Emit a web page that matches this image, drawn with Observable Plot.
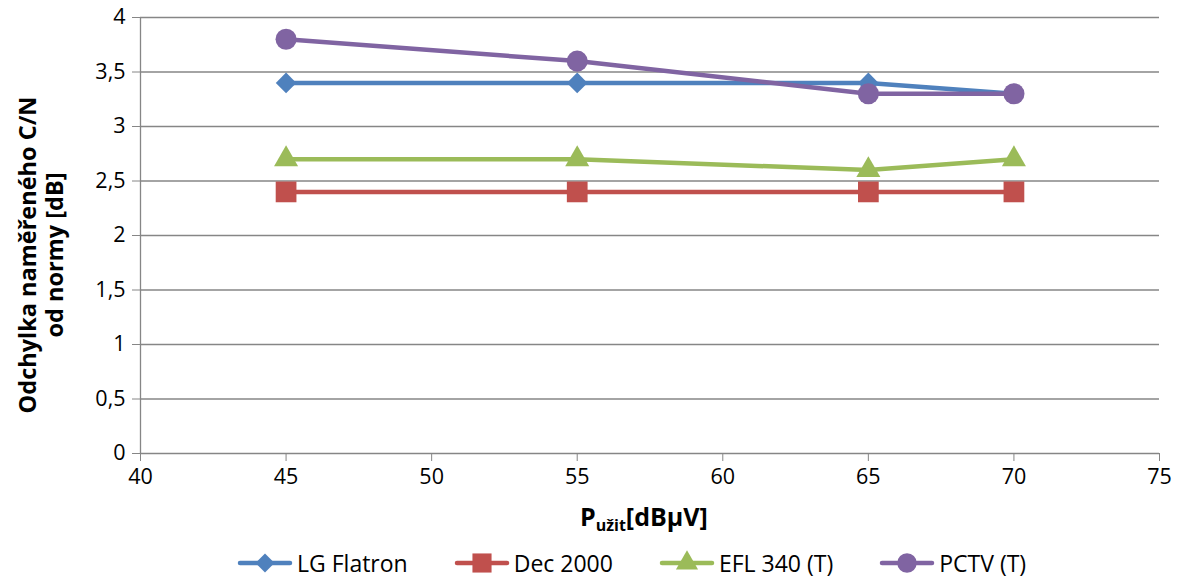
<!DOCTYPE html>
<html><head><meta charset="utf-8">
<script src="https://cdn.jsdelivr.net/npm/d3@7"></script>
<script src="https://cdn.jsdelivr.net/npm/@observablehq/plot@0.6"></script>
<style>
body{margin:0;background:#fff;font-family:"Open Sans",sans-serif;}
#wrap{position:relative;width:1184px;height:579px;}
#xlab{position:absolute;left:580px;top:501px;font-weight:bold;font-size:25px;line-height:30px;color:#000;white-space:nowrap}
#xlab sub{font-size:16px;vertical-align:-5px;line-height:0}
#legend{position:absolute;left:237px;top:547px;display:flex;gap:46px;font-size:23px;line-height:32px;color:#000;white-space:nowrap}
.item{display:flex;align-items:center;gap:4px}
</style></head><body>
<div id="wrap"><div id="chart"></div>
<div id="xlab">P<sub>užit</sub>[dBμV]</div>
<div id="legend"></div></div>
<script>
const xValues = [45, 55, 65, 70];
const seriesNames = ["LG Flatron", "Dec 2000", "EFL 340 (T)", "PCTV (T)"];
const lgFlatron = [3.4, 3.4, 3.4, 3.3];
const dec2000 = [2.4, 2.4, 2.4, 2.4];
const efl340 = [2.7, 2.7, 2.6, 2.7];
const pctv = [3.8, 3.6, 3.3, 3.3];
const yTicks = [0, 0.5, 1, 1.5, 2, 2.5, 3, 3.5, 4];
const xTicks = [40, 45, 50, 55, 60, 65, 70, 75];
const colors = ["#4F81BD", "#C0504D", "#9BBB59", "#8064A2"];
const symbols = ["diamond2", "square", "triangle", "circle"];
const symAreas = [270, 430, 250, 350];

const allSeries = [lgFlatron, dec2000, efl340, pctv];
const data = allSeries.flatMap((vals, i) => vals.map((v, j) => ({x: xValues[j], y: v, s: seriesNames[i], i})));

const marks = [
  Plot.ruleY(yTicks, {stroke: "#868686", strokeWidth: 1.3}),
  Plot.ruleX([40], {stroke: "#868686", strokeWidth: 1.3}),
  Plot.axisY({ticks: yTicks, tickFormat: d => String(d).replace(".", ","), tickSize: 8, tickPadding: 7, label: null, stroke: "#868686", fontSize: 21.5}),
  Plot.axisX({ticks: xTicks, tickSize: 8, tickPadding: 7, label: null, stroke: "#868686", fontSize: 21.5})
];
allSeries.forEach((vals, i) => {
  const d = data.filter(r => r.i === i);
  marks.push(Plot.line(d, {x: "x", y: "y", stroke: colors[i], strokeWidth: 4.5}));
  marks.push(Plot.dot(d, {x: "x", y: "y", fill: colors[i], symbol: () => symbols[i], r: Math.sqrt(symAreas[i] / Math.PI)}));
});

const chart = Plot.plot({
  width: 1184, height: 500,
  marginLeft: 140, marginRight: 25, marginTop: 17, marginBottom: 47,
  x: {domain: [40, 75]},
  y: {domain: [0, 4]},
  style: {fontFamily: "Open Sans", fontSize: "21px", color: "#000", background: "#fff"},
  marks
});
document.getElementById("chart").appendChild(chart);

// y-axis title (two lines)
const svg = d3.select(chart);
const yl = svg.append("text")
  .attr("transform", "translate(36,255) rotate(-90)")
  .attr("text-anchor", "middle")
  .attr("font-weight", "bold").attr("font-size", 23.5).attr("fill", "#000");
yl.append("tspan").attr("x", 0).attr("y", 0).text("Odchylka naměřeného C/N");
yl.append("tspan").attr("x", 0).attr("y", 27).text("od normy [dB]");

// legend
const leg = d3.select("#legend");
const symMap = {diamond2: d3.symbolDiamond2, square: d3.symbolSquare, triangle: d3.symbolTriangle, circle: d3.symbolCircle};
seriesNames.forEach((name, i) => {
  const it = leg.append("div").attr("class", "item");
  const s = it.append("svg").attr("width", 56).attr("height", 26);
  s.append("line").attr("x1", 3).attr("x2", 53).attr("y1", 13).attr("y2", 13)
    .attr("stroke", colors[i]).attr("stroke-width", 4.5).attr("stroke-linecap", "round");
  s.append("path").attr("transform", "translate(28,13)")
    .attr("d", d3.symbol(symMap[symbols[i]], symAreas[i] * 0.85)()).attr("fill", colors[i]);
  it.append("span").text(name);
});
</script></body></html>
